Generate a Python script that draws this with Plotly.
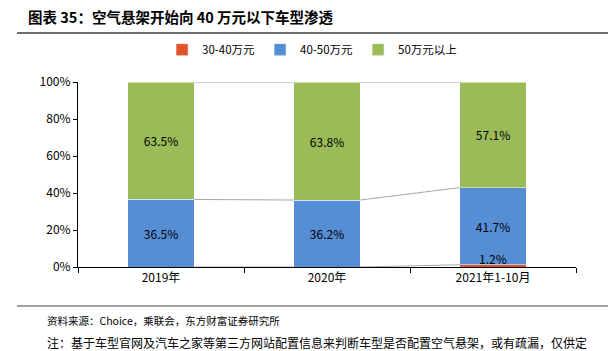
import plotly.graph_objects as go

categories = ["2019年", "2020年", "2021年1-10月"]
s_30_40 = [0.0, 0.0, 1.2]
s_40_50 = [36.5, 36.2, 41.7]
s_50_up = [63.5, 63.8, 57.1]
series_names = ["30-40万元", "40-50万元", "50万元以上"]
colors = ["#E0532A", "#558ED5", "#9BBB59"]
ytick_vals = [0, 20, 40, 60, 80, 100]

FONT = "Noto Sans CJK SC, Noto Sans, sans-serif"
x = list(range(len(categories)))
bw = 0.4

fig = go.Figure()
all_series = [s_30_40, s_40_50, s_50_up]
for name, vals, col in zip(series_names, all_series, colors):
    show_text = name != "30-40万元"
    fig.add_trace(go.Bar(
        x=x, y=vals, name=name, width=bw,
        marker=dict(color=col, line=dict(color="white", width=0.5)),
        text=[f"{v:.1f}%" for v in vals] if show_text else None,
        textposition="inside" if show_text else "none",
        insidetextanchor="middle",
        textfont=dict(family=FONT, size=12, color="black"),
        hoverinfo="skip",
    ))

# series connector lines between stacked bars
cum = [0.0] * len(x)
for vals in all_series:
    cum = [c + v for c, v in zip(cum, vals)]
    for i in range(len(x) - 1):
        fig.add_trace(go.Scatter(
            x=[x[i] + bw / 2, x[i + 1] - bw / 2], y=[cum[i], cum[i + 1]],
            mode="lines", line=dict(color="#A6A6A6", width=1),
            showlegend=False, hoverinfo="skip"))

# label for small 30-40 segment
for i, v in enumerate(s_30_40):
    if v > 0:
        fig.add_annotation(x=x[i], y=v, text=f"{v:.1f}%", showarrow=False,
                           yanchor="bottom", yshift=-4,
                           font=dict(family=FONT, size=12, color="black"))

fig.update_layout(
    width=608, height=351,
    margin=dict(l=78, r=32, t=82, b=84),
    paper_bgcolor="white", plot_bgcolor="white",
    barmode="stack",
    font=dict(family=FONT, size=12, color="black"),
    legend=dict(orientation="h", x=0.47, xanchor="center", y=1.175, yanchor="middle",
                font=dict(family=FONT, size=11.5, color="black"),
                itemwidth=30, traceorder="normal", tracegroupgap=0),
    xaxis=dict(range=[-0.5, 2.5], tickvals=x, ticktext=categories, ticks="",
               showline=True, linecolor="black", linewidth=1, showgrid=False, zeroline=False,
               minor=dict(tick0=-0.5, dtick=1, ticks="outside", ticklen=5, tickcolor="black", showgrid=False),
               tickfont=dict(family=FONT, size=12, color="black")),
    yaxis=dict(range=[0, 100], tickvals=ytick_vals, ticktext=[f"{v}%" for v in ytick_vals],
               ticks="outside", ticklen=4, tickcolor="black",
               showline=True, linecolor="black", linewidth=1, showgrid=False, zeroline=False,
               tickfont=dict(family=FONT, size=12, color="black")),
    showlegend=True,
)

fig.add_annotation(xref="paper", yref="paper", x=(26 - 78) / 498, y=1.0 + (82 - 16) / 185, xanchor="left", yanchor="middle",
                   text="<b>图表 35：空气悬架开始向 40 万元以下车型渗透</b>", showarrow=False,
                   font=dict(family=FONT, size=14.5, color="black"))
fig.add_shape(type="line", xref="paper", yref="paper", x0=(17 - 78) / 498, x1=(608 - 78) / 498,
              y0=1.0 + (82 - 33) / 185, y1=1.0 + (82 - 33) / 185, line=dict(color="#404040", width=1.5))
fig.add_shape(type="line", xref="paper", yref="paper", x0=(17 - 78) / 498, x1=(608 - 78) / 498,
              y0=-(306 - 267) / 185, y1=-(306 - 267) / 185, line=dict(color="#808080", width=1.5))
fig.add_annotation(xref="paper", yref="paper", x=(45 - 78) / 498, y=-(320 - 267) / 185,
                   xanchor="left", yanchor="middle", showarrow=False,
                   text="资料来源：Choice，乘联会，东方财富证券研究所",
                   font=dict(family=FONT, size=10.5, color="black"))
fig.add_annotation(xref="paper", yref="paper", x=(45 - 78) / 498, y=-(342 - 267) / 185,
                   xanchor="left", yanchor="middle", showarrow=False,
                   text="注：基于车型官网及汽车之家等第三方网站配置信息来判断车型是否配置空气悬架，或有疏漏，仅供定",
                   font=dict(family=FONT, size=12, color="black"))

fig.write_html("out.html")
